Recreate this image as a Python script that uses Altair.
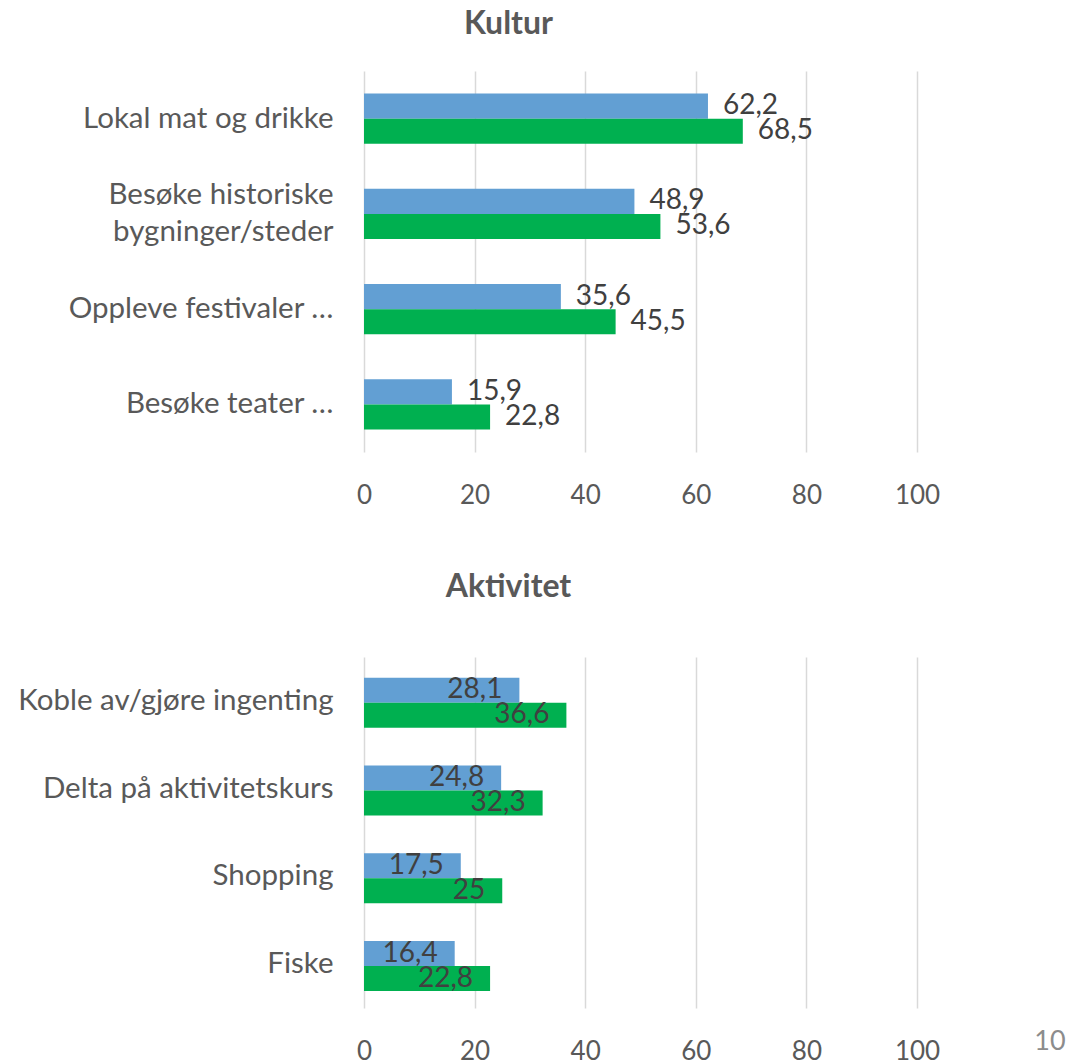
import altair as alt
import pandas as pd

series = ["Serie 1", "Serie 2"]
series_colors = ["#629FD3", "#00B050"]

kultur_cats = ["Lokal mat og drikke", "Besøke historiske\nbygninger/steder",
               "Oppleve festivaler …", "Besøke teater …"]
kultur_s1 = [62.2, 48.9, 35.6, 15.9]
kultur_s2 = [68.5, 53.6, 45.5, 22.8]

aktivitet_cats = ["Koble av/gjøre ingenting", "Delta på aktivitetskurs", "Shopping", "Fiske"]
aktivitet_s1 = [28.1, 24.8, 17.5, 16.4]
aktivitet_s2 = [36.6, 32.3, 25, 22.8]

x_ticks = [0, 20, 40, 60, 80, 100]
page_number = "10"

FONT = "Lato"
TXT = "#595959"


def make_df(cats, s1, s2):
    rows = []
    for c, a, b in zip(cats, s1, s2):
        for s, v in zip(series, (a, b)):
            rows.append({"cat": c, "s": s, "v": v, "label": f"{v:g}".replace(".", ",")})
    return pd.DataFrame(rows)


def panel(cats, s1, s2, title, height, label_align, label_dx, title_offset, extra=None):
    df = make_df(cats, s1, s2)
    base = alt.Chart(df)
    x = alt.X("v:Q", scale=alt.Scale(domain=[0, 100], nice=False),
              axis=alt.Axis(values=x_ticks, title=None, grid=True, gridColor="#d9d9d9",
                            gridWidth=1.5, domain=False, ticks=False, tickSize=0,
                            labelPadding=30, labelFontSize=26, labelColor=TXT,
                            labelFont=FONT, labelFlush=False))
    y = alt.Y("cat:N", sort=cats,
              scale=alt.Scale(paddingInner=0.475, paddingOuter=0.2375),
              axis=alt.Axis(title=None, labelExpr="split(datum.label, '\\n')",
                            domain=False, ticks=False, tickSize=0, grid=False,
                            labelPadding=31, labelFontSize=29.5, labelColor=TXT,
                            labelFont=FONT, labelLimit=400, labelLineHeight=37,
                            labelOffset=alt.condition("indexof(datum.value, '\\n') >= 0",
                                                      alt.value(-18.5), alt.value(0)),
                            minExtent=356, maxExtent=356))
    yoff = alt.YOffset("s:N", sort=series, scale=alt.Scale(paddingInner=0, paddingOuter=0))
    bars = base.mark_bar().encode(
        x=x, y=y, yOffset=yoff,
        color=alt.Color("s:N", scale=alt.Scale(domain=series, range=series_colors), legend=None),
    )
    text = base.mark_text(align=label_align, dx=label_dx, baseline="middle",
                          fontSize=28, font=FONT, color="#404040").encode(
        x=x, y=y, yOffset=yoff, text="label:N")
    layers = [bars, text]
    if extra is not None:
        layers.append(extra)
    return alt.layer(*layers).properties(
        width=553, height=height,
        title=alt.TitleParams(title, fontSize=32, font=FONT, fontWeight="bold",
                              color=TXT, offset=title_offset, anchor="middle", dx=-132),
    )


pn = alt.Chart(pd.DataFrame({"t": [page_number]})).mark_text(
    fontSize=27, font=FONT, color="#8c8c8c", align="center", baseline="middle"
).encode(x=alt.value(686), y=alt.value(385), text="t:N")

top = panel(kultur_cats, kultur_s1, kultur_s2, "Kultur", 381, "left", 15, 30)
bottom = panel(aktivitet_cats, aktivitet_s1, aktivitet_s2, "Aktivitet", 351, "right", -17, 53, pn)

chart = alt.vconcat(top, bottom, spacing=63).properties(
    padding=0
).configure(background="white").configure_view(stroke=None)

chart.save("out.html", embed_options={"renderer": "svg", "actions": False})
